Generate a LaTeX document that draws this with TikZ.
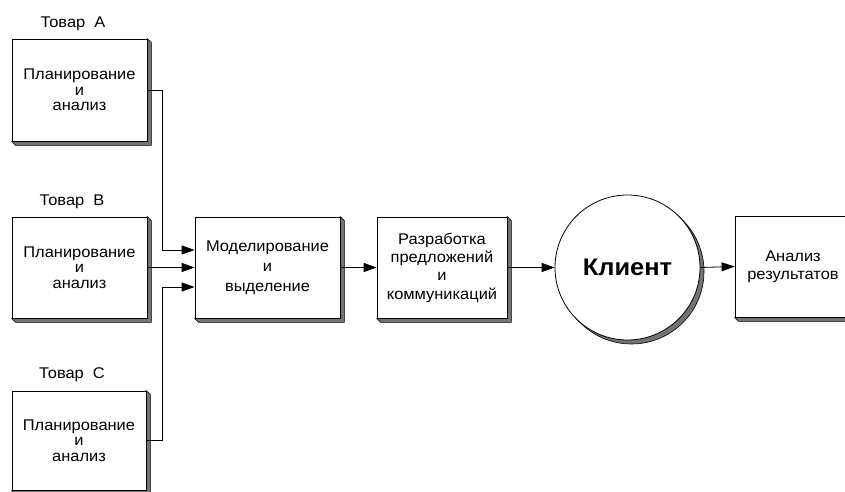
\documentclass[tikz,border=0pt]{standalone}
\usepackage{fontspec}
\setmainfont[FakeStretch=1.06]{Liberation Sans}
\usetikzlibrary{arrows.meta,calc,backgrounds}
\tikzset{
  box/.style={draw=black, fill=white, line width=0.8pt, align=center, inner sep=0pt,
    font=\fontsize{15.5}{#1}\selectfont},
  box/.default=15.5,
  lbl/.style={font=\fontsize{15.5}{16}\selectfont, inner sep=0pt},
  arr/.style={line width=0.8pt, -{Triangle[length=13pt,width=9pt]}},
  shadowfill/.style={fill=black!55, draw=black, line width=0.6pt},
}
\newcommand{\bshadow}[1]{%
  \filldraw[shadowfill] (#1.north east) -- ++(4,4) -- ($(#1.south east)+(4,4)$) -- ($(#1.south west)+(4,4)$) -- (#1.south west) -- cycle;}
\begin{document}
\begin{tikzpicture}[x=1pt,y=-1pt]
\useasboundingbox (0,0) rectangle (845,492);
% boxes
\node[box, minimum width=135pt, minimum height=102pt] (A) at (79.5,90) {Планирование\\и\\анализ};
\node[box, minimum width=135pt, minimum height=101pt] (B) at (79.5,267.5) {Планирование\\и\\анализ};
\node[box, minimum width=134pt, minimum height=99pt] (C) at (79,440.5) {Планирование\\и\\анализ};
\node[box=20, minimum width=145pt, minimum height=101pt] (M) at (267.5,267.5) {Моделирование\\и\\выделение};
\node[box=18.3, minimum width=130pt, minimum height=101pt] (R) at (442,267.5) {Разработка\\предложений\\и\\коммуникаций};
\node[box=18, minimum width=116pt, minimum height=101pt] (N) at (793,266.5) {Анализ\\результатов};
% client circle
\node[circle, draw=black, fill=white, line width=0.8pt, minimum size=145pt, inner sep=0pt,
  font=\fontsize{24}{26}\selectfont\bfseries] (K) at (627.5,267.5) {Клиент};
\begin{scope}[on background layer]
  \fill[white] (0,0) rectangle (845,492);
  \bshadow{A}\bshadow{B}\bshadow{C}\bshadow{M}\bshadow{R}\bshadow{N}
  \filldraw[shadowfill] ($(K.center)+(4,4)$) circle (72.5);
\end{scope}
% labels
\node[lbl] (tA) at (73,24) {Товар\ \ A};
\node[lbl] (tB) at (72,202) {Товар\ \ B};
\node[lbl] (tC) at (72,375) {Товар\ \ C};
% connectors
\coordinate (jA) at (162,90);
\coordinate (jC) at (162,440.5);
\draw[arr] (A.east) -- (jA) |- ($(M.west)+(0,-17.5)$);
\draw[arr] (B.east) -- (M.west);
\draw[arr] (C.east) -- (jC) |- ($(M.west)+(0,19.5)$);
\draw[arr] (M.east) -- (R.west);
\draw[arr] (R.east) -- (K.west);
\draw[arr] (K.east) -- (N.west);
\end{tikzpicture}
\end{document}
